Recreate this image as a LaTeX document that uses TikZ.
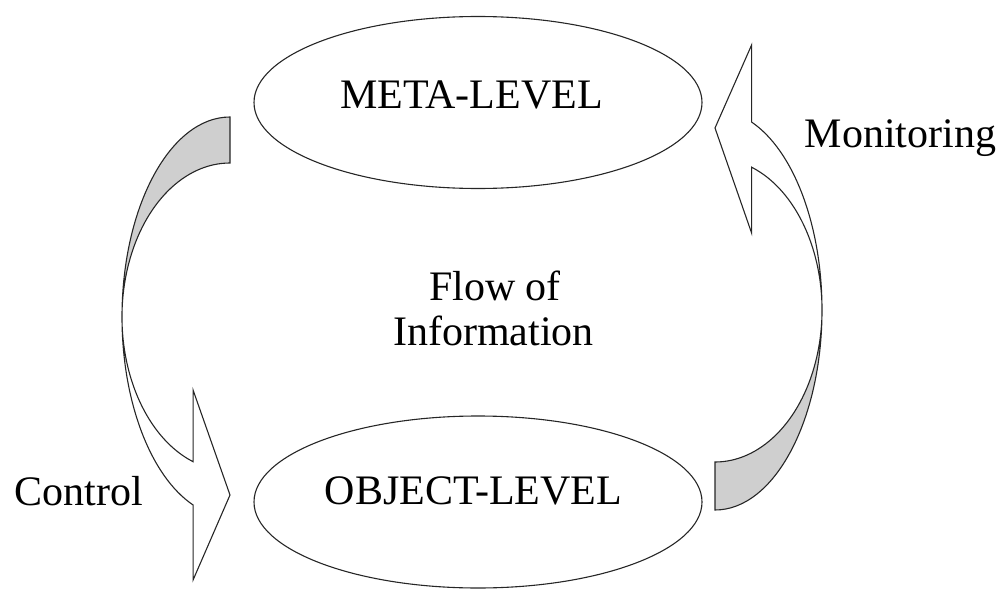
\documentclass[tikz,border=0pt]{standalone}
\usepackage{fontspec}
\setmainfont{Liberation Serif}
\usetikzlibrary{shapes.geometric}
\begin{document}
\begin{tikzpicture}[x=1pt,y=1pt,
  lvl/.style={draw=black!85,line width=1.1pt,ellipse,minimum width=448pt,minimum height=172pt,inner sep=0pt},
  txt/.style={font=\fontsize{42}{46}\selectfont,anchor=base,inner sep=0pt},
  arrowline/.style={draw=black!85,line width=1.1pt,line join=miter},
  arrowfill/.style={fill=black!19}]
\useasboundingbox (0,0) rectangle (1007,-589);
% ellipses
\node[lvl] (meta) at (478,-102.5) {};
\node[lvl] (obj) at (478,-502) {};
% texts
\node[txt] (metatxt) at (471.5,-108) {META-LEVEL};
\node[txt] (objtxt) at (473.5,-504) {OBJECT-LEVEL};
\node[txt] (flow1) at (495,-300) {Flow of};
\node[txt] (flow2) at (493.5,-345) {Information};
\node[txt] (control) at (79,-505) {Control};
\node[txt] (monitor) at (900.5,-147) {Monitoring};
% left curved arrow (Control)
\fill[arrowfill] (230,-117) arc[start angle=90,end angle=180,x radius=108pt,y radius=200pt]
  arc[start angle=180,end angle=90,x radius=108pt,y radius=154pt] -- cycle;
\draw[arrowline] (230,-117) arc[start angle=90,end angle=250,x radius=108pt,y radius=200pt]
  -- (193.06,-580) -- (230,-495) -- (193.06,-390) -- (193.06,-461.71)
  arc[start angle=250,end angle=90,x radius=108pt,y radius=154pt] -- cycle;
% right curved arrow (Monitoring)
\fill[arrowfill] (715,-510) arc[start angle=270,end angle=360,x radius=107pt,y radius=200pt]
  arc[start angle=360,end angle=270,x radius=107pt,y radius=152pt] -- cycle;
\draw[arrowline] (715,-510) arc[start angle=270,end angle=430,x radius=107pt,y radius=200pt]
  -- (751.6,-45) -- (715,-128) -- (751.6,-233) -- (751.6,-167.17)
  arc[start angle=430,end angle=270,x radius=107pt,y radius=152pt] -- cycle;
\end{tikzpicture}
\end{document}
